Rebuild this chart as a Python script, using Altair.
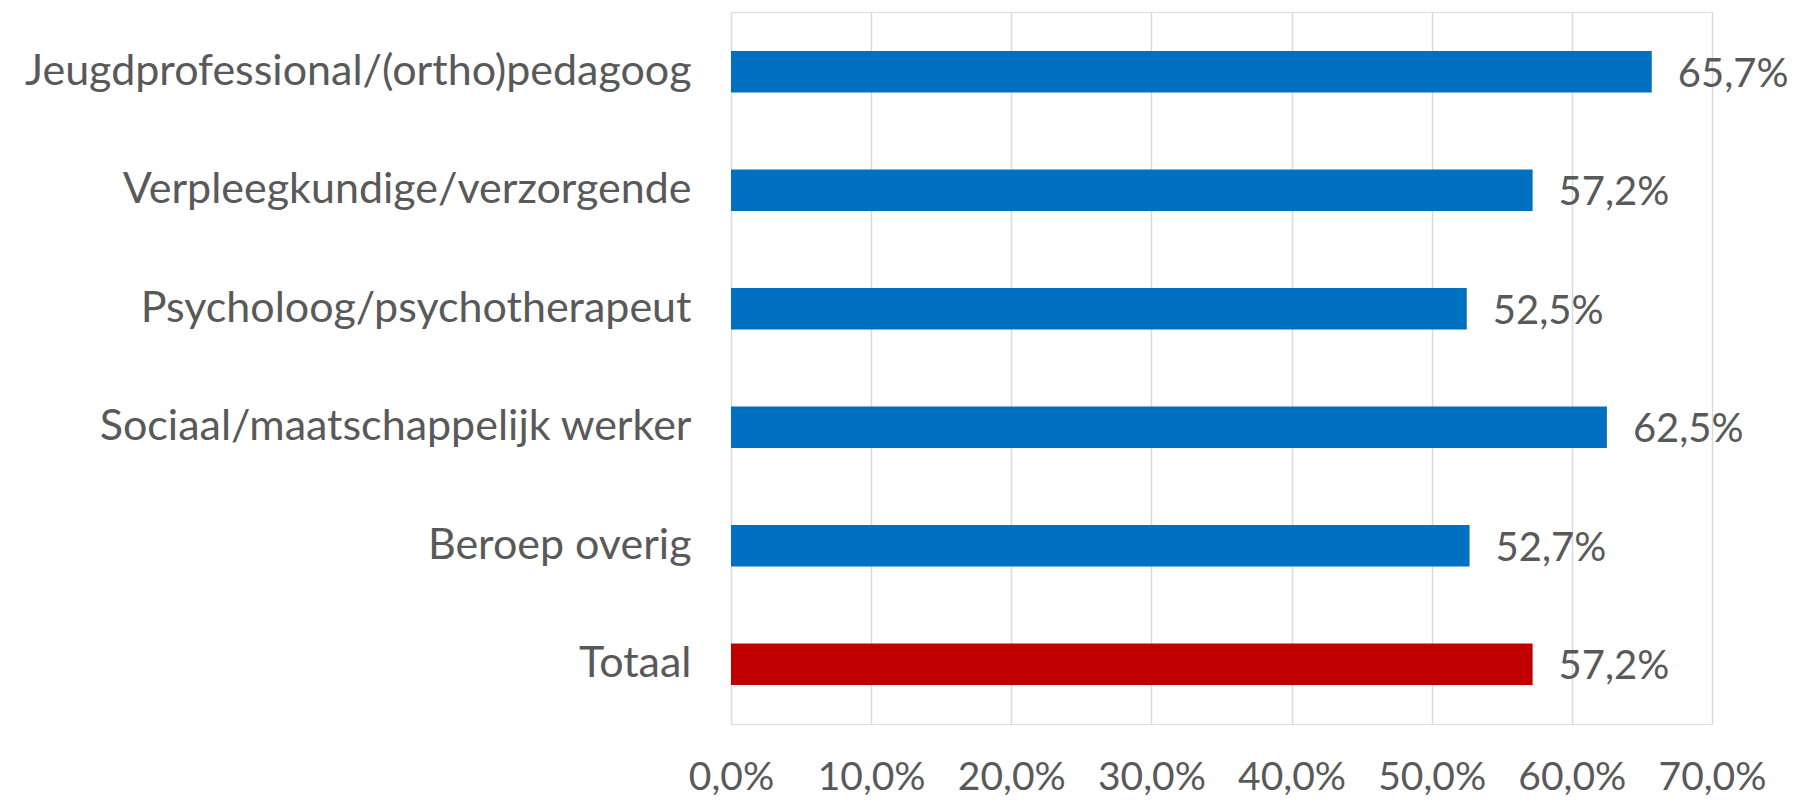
import altair as alt
import pandas as pd

categories = [
    "Jeugdprofessional/(ortho)pedagoog",
    "Verpleegkundige/verzorgende",
    "Psycholoog/psychotherapeut",
    "Sociaal/maatschappelijk werker",
    "Beroep overig",
    "Totaal",
]
values = [65.7, 57.2, 52.5, 62.5, 52.7, 57.2]
groups = ["beroep", "beroep", "beroep", "beroep", "beroep", "totaal"]
x_ticks = [0, 10, 20, 30, 40, 50, 60, 70]

df = pd.DataFrame({"cat": categories, "val": values, "grp": groups})
df["label"] = [f"{v:.1f}".replace(".", ",") + "%" for v in values]

FONT = "Lato"
TXT = "#595959"

y_enc = alt.Y(
    "cat:N",
    sort=categories,
    title=None,
    scale=alt.Scale(paddingInner=0.65, paddingOuter=0.33),
    axis=alt.Axis(
        domain=False, ticks=False, grid=False,
        labelFont=FONT, labelFontSize=43, labelColor=TXT,
        labelPadding=40, labelLimit=1000,
    ),
)

x_enc = alt.X(
    "val:Q",
    title=None,
    scale=alt.Scale(domain=[0, 70], nice=False),
    axis=alt.Axis(
        values=x_ticks, domain=False, ticks=False, grid=True,
        gridColor="#d9d9d9", gridWidth=1.5,
        labelFont=FONT, labelFontSize=39, labelColor=TXT,
        labelPadding=34, labelFlush=False,
        labelExpr="replace(format(datum.value, '.1f'), '.', ',') + '%'",
    ),
)

bars = alt.Chart(df).mark_bar().encode(
    y=y_enc,
    x=x_enc,
    color=alt.Color(
        "grp:N",
        scale=alt.Scale(domain=["beroep", "totaal"], range=["#0070C0", "#C00000"]),
        legend=None,
    ),
)

labels = alt.Chart(df).mark_text(
    align="left", baseline="middle", dx=26, dy=3,
    font=FONT, fontSize=40, color=TXT,
).encode(
    y=alt.Y("cat:N", sort=categories),
    x=alt.X("val:Q"),
    text="label:N",
)

chart = (
    alt.layer(bars, labels)
    .properties(
        width=981, height=712,
        autosize=alt.AutoSizeParams(type="none"),
        padding={"left": 723, "top": 4, "right": 83, "bottom": 78},
    )
    .configure_view(stroke=None)
    .configure(background="white")
)

chart.save("out.html", embed_options={"renderer": "svg", "actions": False})
